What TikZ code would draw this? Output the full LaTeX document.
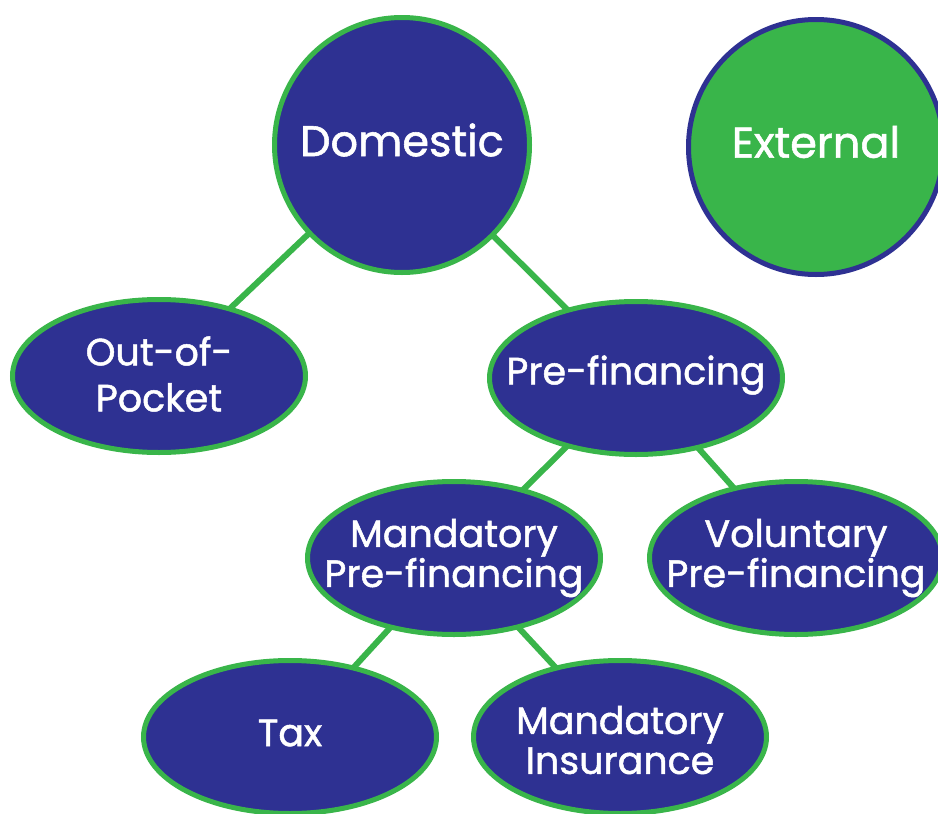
\documentclass[tikz,border=0pt]{standalone}
\usepackage{fontspec}
\setmainfont{Poppins}[FakeBold=1.3]
\usetikzlibrary{shapes.geometric,backgrounds}
\definecolor{navy}{HTML}{2E3192}
\definecolor{leaf}{HTML}{39B54A}
\tikzset{
  oval/.style={ellipse, draw=leaf, fill=navy, line width=5pt, minimum width=293pt, minimum height=153pt, inner sep=0pt},
  bigdisc/.style={circle, line width=5pt, minimum size=255pt, inner sep=0pt},
  lbl/.style={text=white, align=center, font=\fontsize{38}{40}\selectfont, inner sep=0pt},
  biglbl/.style={text=white, align=center, font=\fontsize{43}{46}\selectfont, inner sep=0pt},
  link/.style={draw=leaf, line width=6pt}
}
\begin{document}
\begin{tikzpicture}[x=1pt,y=-1pt]
\useasboundingbox (0,0) rectangle (938,814);
\node[bigdisc, draw=leaf, fill=navy] (dom) at (402,145) {};
\node[bigdisc, draw=navy, fill=leaf] (ext) at (816,147) {};
\node[oval] (oop) at (159,376) {};
\node[oval] (pre) at (636,378) {};
\node[oval] (man) at (454,558) {};
\node[oval] (vol) at (796,558) {};
\node[oval] (tax) at (290,737) {};
\node[oval] (ins) at (620,737) {};
\node[biglbl] (domt) at ([yshift=5pt]dom.center) {Domestic};
\node[biglbl] (extt) at ([yshift=5pt]ext.center) {External};
\node[lbl, font=\fontsize{38}{46}\selectfont] (oopt) at ([yshift=2pt]oop.center) {Out-of-\\Pocket};
\node[lbl] (pret) at ([yshift=3pt]pre.center) {Pre-financing};
\node[lbl] (mant) at ([yshift=0pt]man.center) {Mandatory\\Pre-financing};
\node[lbl] (volt) at ([yshift=0pt]vol.center) {Voluntary\\Pre-financing};
\node[lbl] (taxt) at ([yshift=4pt]tax.center) {Tax};
\node[lbl] (inst) at ([yshift=-3pt]ins.center) {Mandatory\\Insurance};
\begin{scope}[on background layer]
\draw[link] (dom.center) -- (oop.center);
\draw[link] (dom.center) -- (pre.center);
\draw[link] (pre.center) -- (man.center);
\draw[link] (pre.center) -- (vol.center);
\draw[link] (man.center) -- (tax.center);
\draw[link] (man.center) -- (ins.center);
\end{scope}
\end{tikzpicture}
\end{document}
